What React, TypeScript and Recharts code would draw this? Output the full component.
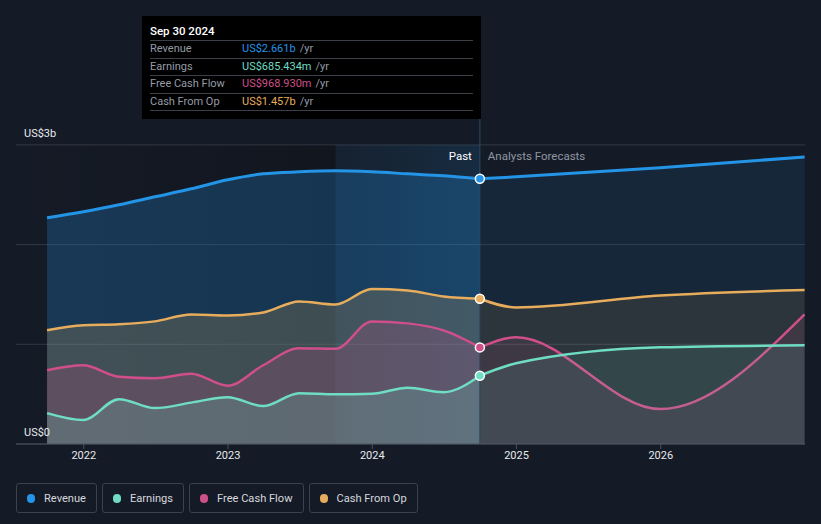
import React from 'react';
import {
  ComposedChart,
  Area,
  XAxis,
  YAxis,
  CartesianGrid,
  ReferenceArea,
  ReferenceLine,
  ReferenceDot,
} from 'recharts';

// quarterly history (trailing twelve months), US$ billions
const pastDates = [
  '2021-09-30', '2021-12-31', '2022-03-31', '2022-06-30', '2022-09-30', '2022-12-31',
  '2023-03-31', '2023-06-30', '2023-09-30', '2023-12-31', '2024-03-31', '2024-06-30', '2024-09-30',
];
const revenuePast = [2.27, 2.33, 2.4, 2.48, 2.56, 2.65, 2.71, 2.73, 2.74, 2.73, 2.71, 2.69, 2.661];
const earningsPast = [0.31, 0.24, 0.45, 0.36, 0.415, 0.47, 0.38, 0.51, 0.5, 0.505, 0.565, 0.52, 0.685434];
const fcfPast = [0.74, 0.79, 0.675, 0.66, 0.705, 0.585, 0.79, 0.96, 0.955, 1.23, 1.21, 1.14, 0.96893];
const cfoPast = [1.14, 1.19, 1.2, 1.23, 1.3, 1.29, 1.32, 1.43, 1.4, 1.555, 1.54, 1.48, 1.457];

// analyst forecasts
const forecastDates = ['2024-12-31', '2025-12-31', '2026-12-31'];
const revenueForecast = [2.68, 2.77, 2.88];
const earningsForecast = [0.81, 0.97, 0.99];
const fcfForecast = [1.07, 0.35, 1.3];
const cfoForecast = [1.37, 1.49, 1.545];

const xTicks = [2022, 2023, 2024, 2025, 2026];
const yTicks = [0, 1, 2, 3];
const bandStart = '2023-09-30';
const tooltipTitle = 'Sep 30 2024';

const BG = '#151b26';
const FONT = 'Roboto, "Noto Sans", sans-serif';

const series = [
  { key: 'revenue', name: 'Revenue', color: '#2394e6', past: revenuePast, fc: revenueForecast },
  { key: 'cfo', name: 'Cash From Op', color: '#e8ad5c', past: cfoPast, fc: cfoForecast },
  { key: 'fcf', name: 'Free Cash Flow', color: '#cf4f8a', past: fcfPast, fc: fcfForecast },
  { key: 'earnings', name: 'Earnings', color: '#6fdcc4', past: earningsPast, fc: earningsForecast },
];
const legendOrder = ['revenue', 'earnings', 'fcf', 'cfo'];

function toYear(d: string) {
  const [y, m, day] = d.split('-').map(Number);
  const start = Date.UTC(y, 0, 1);
  const end = Date.UTC(y + 1, 0, 1);
  return y + (Date.UTC(y, m - 1, day) - start) / (end - start);
}

const last = pastDates.length - 1;
const splitX = toYear(pastDates[last]);

const data = [
  ...pastDates.map((d, i) => {
    const row: any = { t: toYear(d) };
    series.forEach((s) => {
      row[s.key + 'Past'] = s.past[i];
      if (i === last) row[s.key + 'Fc'] = s.past[i];
    });
    return row;
  }),
  ...forecastDates.map((d, i) => {
    const row: any = { t: toYear(d) };
    series.forEach((s) => {
      row[s.key + 'Fc'] = s.fc[i];
    });
    return row;
  }),
];

const fmt = (v: number) => (v >= 1 ? `US$${v.toFixed(3)}b` : `US$${(v * 1000).toFixed(3)}m`);

const YTick = (props: any) => {
  const { x, y, payload } = props;
  if (payload.value !== 0 && payload.value !== 3) return <g />;
  return (
    <text x={x} y={y - 8} fill="#e8eaee" fontSize={11} fontFamily={FONT} textAnchor="start">
      {payload.value === 0 ? 'US$0' : 'US$3b'}
    </text>
  );
};

const SplitLabel = (props: any) => {
  const { viewBox } = props;
  const x = viewBox.x;
  const y = viewBox.y + 41;
  return (
    <g fontFamily={FONT} fontSize={11.5}>
      <text x={x - 8} y={y} fill="#ffffff" textAnchor="end">Past</text>
      <text x={x + 8} y={y} fill="#8f96a3" textAnchor="start">Analysts Forecasts</text>
    </g>
  );
};

function TooltipBox() {
  const rows = legendOrder.map((k) => series.find((s) => s.key === k)!);
  return (
    <div
      style={{
        position: 'absolute', left: 142, top: 16, width: 339, height: 103, background: '#000',
        fontFamily: FONT, fontSize: 11, boxSizing: 'border-box', padding: '7px 8px 0 8px',
      }}
    >
      <div style={{ color: '#fff', fontWeight: 500, fontSize: 11.5, height: 17, lineHeight: '16px' }}>{tooltipTitle}</div>
      {rows.map((s) => (
        <div
          key={s.key}
          style={{
            display: 'flex', borderTop: '1px solid #3a3f48', height: 17.6, lineHeight: '16px', boxSizing: 'border-box',
          }}
        >
          <div style={{ width: 92, color: '#959ba6' }}>{s.name}</div>
          <div style={{ color: s.color }}>{fmt(s.past[last])}</div>
          <div style={{ color: '#959ba6', marginLeft: 4 }}>/yr</div>
        </div>
      ))}
      <div style={{ borderTop: '1px solid #3a3f48' }} />
    </div>
  );
}

function LegendRow() {
  return (
    <div style={{ position: 'absolute', left: 16, top: 483, display: 'flex', gap: 5, fontFamily: FONT }}>
      {legendOrder.map((k) => {
        const s = series.find((x) => x.key === k)!;
        return (
          <div
            key={k}
            style={{
              display: 'flex', alignItems: 'center', height: 30, boxSizing: 'border-box',
              border: '1px solid #3b414d', borderRadius: 3, padding: '0 10px 0 10px', color: '#d5d8de', fontSize: 11.1,
            }}
          >
            <span style={{ width: 8, height: 9, borderRadius: 5, background: s.color, marginRight: 9, display: 'inline-block' }} />
            {s.name}
          </div>
        );
      })}
    </div>
  );
}

export default function App() {
  return (
    <div style={{ position: 'fixed', left: 0, top: 0, width: 821, height: 524, background: BG, overflow: 'hidden' }}>
      <ComposedChart
        width={821}
        height={470}
        data={data}
        margin={{ top: 119, right: 16, bottom: 0, left: 16 }}
      >
        <defs>
          <linearGradient id="pastShade" x1="0" y1="0" x2="1" y2="0">
            <stop offset="0%" stopColor="#000" stopOpacity={0} />
            <stop offset="100%" stopColor="#000" stopOpacity={0.2} />
          </linearGradient>
          <linearGradient id="bandShade" x1="0" y1="0" x2="1" y2="0">
            <stop offset="0%" stopColor="#2394e6" stopOpacity={0.05} />
            <stop offset="100%" stopColor="#2394e6" stopOpacity={0.14} />
          </linearGradient>
        </defs>
        <CartesianGrid horizontal vertical={false} stroke="#323845" horizontalValues={yTicks} />
        <XAxis
          type="number"
          dataKey="t"
          domain={[2021.53, 2027]}
          ticks={xTicks}
          tickFormatter={(v) => String(v)}
          stroke="#4a505c"
          tick={{ fill: '#e8eaee', fontSize: 11, fontFamily: FONT }}
          tickSize={5}
          height={26}
          allowDataOverflow
        />
        <YAxis
          type="number"
          domain={[0, 3.26]}
          ticks={yTicks}
          mirror
          axisLine={false}
          tickLine={false}
          tick={<YTick />}
          allowDataOverflow
        />
        <ReferenceArea x2={toYear(bandStart)} y1={0} y2={3} fill="url(#pastShade)" fillOpacity={1} />
        <ReferenceArea x1={toYear(bandStart)} x2={splitX} y1={0} y2={3} fill="url(#bandShade)" fillOpacity={1} />
        {series.map((s) => (
          <Area
            key={s.key + 'Past'}
            type="monotone"
            dataKey={s.key + 'Past'}
            stroke={s.color}
            strokeWidth={s.key === 'revenue' ? 3 : 2.5}
            fill={s.color}
            fillOpacity={s.key === 'revenue' ? 0.25 : 0.2}
            baseValue={0}
            dot={false}
            activeDot={false}
            isAnimationActive={false}
          />
        ))}
        {series.map((s) => (
          <Area
            key={s.key + 'Fc'}
            type="monotone"
            dataKey={s.key + 'Fc'}
            stroke={s.color}
            strokeWidth={s.key === 'revenue' ? 3 : 2.5}
            fill={s.color}
            fillOpacity={s.key === 'revenue' ? 0.1 : 0.11}
            baseValue={0}
            dot={false}
            activeDot={false}
            isAnimationActive={false}
          />
        ))}
        <ReferenceLine x={splitX} stroke="#2a4a66" strokeWidth={1} label={<SplitLabel />} />
        {series.map((s) => (
          <ReferenceDot
            key={s.key + 'Dot'}
            x={splitX}
            y={s.past[last]}
            r={4.5}
            fill={s.color}
            stroke="#ffffff"
            strokeWidth={1.5}
          />
        ))}
      </ComposedChart>
      <TooltipBox />
      <LegendRow />
    </div>
  );
}
